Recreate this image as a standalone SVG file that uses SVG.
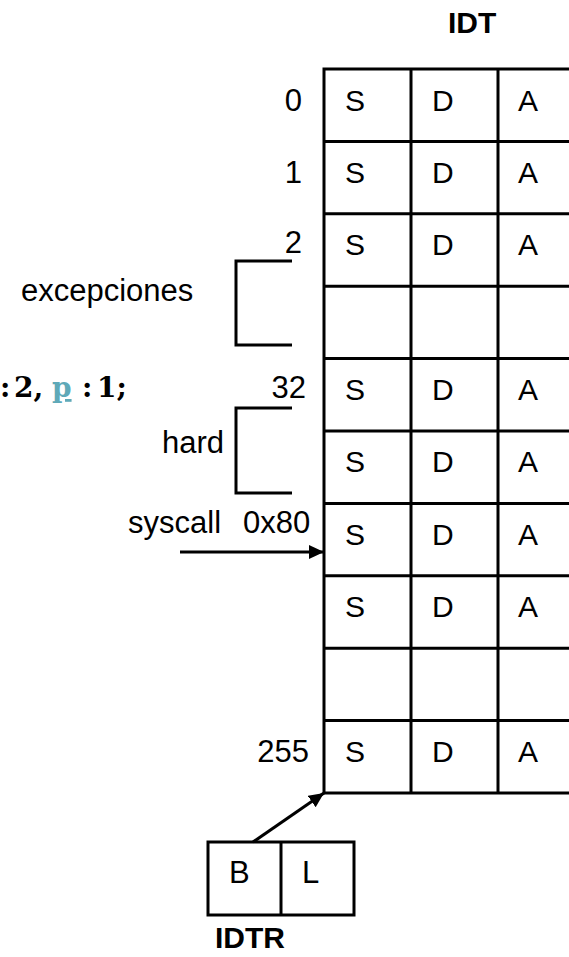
<svg xmlns="http://www.w3.org/2000/svg" width="569" height="957" viewBox="0 0 569 957">
<style>
  .t{font-family:"Liberation Sans",Arial,sans-serif;font-size:30px;fill:#000}
  .l{font-family:"Liberation Sans",Arial,sans-serif;font-size:31px;fill:#000}
  .b{font-family:"Liberation Sans",Arial,sans-serif;font-size:30px;font-weight:bold;fill:#000}
  .ln{stroke:#000;stroke-width:3;fill:none}
  .code{font-family:"DejaVu Serif","Liberation Serif",serif;font-size:28px;font-weight:bold;fill:#000}
</style>
<defs>
  <marker id="ah" markerUnits="userSpaceOnUse" markerWidth="16" markerHeight="16" viewBox="0 0 16 16" refX="15" refY="8" orient="auto">
    <path d="M0,1 L15,8 L0,15 Z" fill="#000"/>
  </marker>
</defs>
<rect width="569" height="957" fill="#fff"/>

<g id="idt-title"><text class="b" x="448" y="33">IDT</text></g>

<g id="idt-table">
  <rect class="ln" x="324" y="69" width="261" height="724"/>
  <g class="ln">
    <line x1="411" y1="69" x2="411" y2="793"/>
    <line x1="498" y1="69" x2="498" y2="793"/>
    <line x1="324" y1="141.4" x2="585" y2="141.4"/>
    <line x1="324" y1="213.8" x2="585" y2="213.8"/>
    <line x1="324" y1="286.2" x2="585" y2="286.2"/>
    <line x1="324" y1="358.6" x2="585" y2="358.6"/>
    <line x1="324" y1="431" x2="585" y2="431"/>
    <line x1="324" y1="503.4" x2="585" y2="503.4"/>
    <line x1="324" y1="575.8" x2="585" y2="575.8"/>
    <line x1="324" y1="648.2" x2="585" y2="648.2"/>
    <line x1="324" y1="720.6" x2="585" y2="720.6"/>
  </g>
  <g id="row-0"><text class="t" x="345" y="111">S</text><text class="t" x="432" y="111">D</text><text class="t" x="518" y="111">A</text></g>
  <g id="row-1"><text class="t" x="345" y="183">S</text><text class="t" x="432" y="183">D</text><text class="t" x="518" y="183">A</text></g>
  <g id="row-2"><text class="t" x="345" y="255">S</text><text class="t" x="432" y="255">D</text><text class="t" x="518" y="255">A</text></g>
  <g id="row-32"><text class="t" x="345" y="400">S</text><text class="t" x="432" y="400">D</text><text class="t" x="518" y="400">A</text></g>
  <g id="row-33"><text class="t" x="345" y="472">S</text><text class="t" x="432" y="472">D</text><text class="t" x="518" y="472">A</text></g>
  <g id="row-0x80"><text class="t" x="345" y="545">S</text><text class="t" x="432" y="545">D</text><text class="t" x="518" y="545">A</text></g>
  <g id="row-0x81"><text class="t" x="345" y="617">S</text><text class="t" x="432" y="617">D</text><text class="t" x="518" y="617">A</text></g>
  <g id="row-255"><text class="t" x="345" y="762">S</text><text class="t" x="432" y="762">D</text><text class="t" x="518" y="762">A</text></g>
</g>

<g id="row-labels">
  <text class="l" x="302" y="111" text-anchor="end">0</text>
  <text class="l" x="302" y="183" text-anchor="end">1</text>
  <text class="l" x="302" y="253" text-anchor="end">2</text>
  <text class="l" x="306" y="398" text-anchor="end">32</text>
  <text class="l" x="309" y="762" text-anchor="end">255</text>
</g>

<g id="excepciones">
  <text class="l" x="21" y="301">excepciones</text>
  <path class="ln" d="M292,261 H236 V345 H292"/>
</g>

<g id="hard">
  <text class="l" x="162" y="453">hard</text>
  <path class="ln" d="M292,408 H236 V493 H292"/>
</g>

<g id="syscall">
  <text class="l" x="128" y="533">syscall<tspan x="243">0x80</tspan></text>
</g>

<g id="code">
  <text class="code" y="397"><tspan x="0">:</tspan><tspan x="14">2,</tspan><tspan x="52" fill="#5fa9b8" text-decoration="underline">p</tspan><tspan x="82">:</tspan><tspan x="97">1;</tspan></text>
</g>

<g id="idtr">
  <rect class="ln" x="208" y="842" width="146" height="73"/>
  <line class="ln" x1="281" y1="842" x2="281" y2="915"/>
  <text class="l" x="229" y="883">B</text>
  <text class="l" x="302" y="883">L</text>
  <text class="b" x="215" y="948">IDTR</text>
</g>

<g id="connectors">
  <line class="ln" x1="180" y1="552" x2="324" y2="552" marker-end="url(#ah)"/>
  <line class="ln" x1="253" y1="842" x2="324" y2="793" marker-end="url(#ah)"/>
</g>
</svg>
